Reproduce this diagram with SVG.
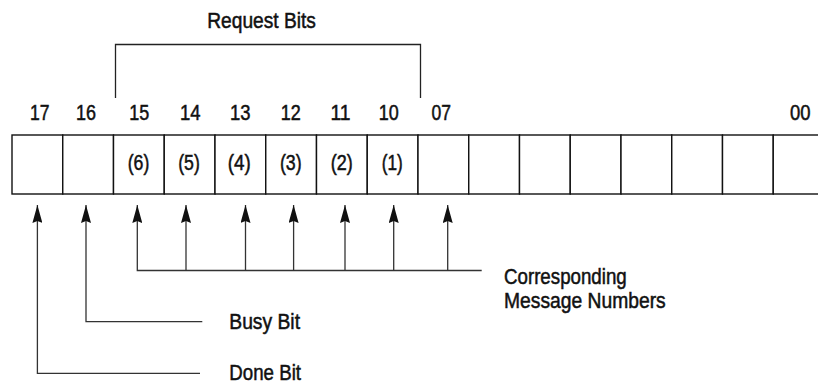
<svg xmlns="http://www.w3.org/2000/svg" width="818" height="386" viewBox="0 0 818 386">
  <style>
    .bg { fill: #ffffff; }
    .cell { fill: #ffffff; stroke: #111111; stroke-width: 1.4; }
    .txt { font-family: "Liberation Sans", Arial, sans-serif; font-size: 21.5px; fill: #111111; stroke: #111111; stroke-width: 0.5; }
    .mid { text-anchor: middle; }
    .wire { fill: none; stroke: #333333; stroke-width: 1.3; }
    .brace { fill: none; stroke: #222222; stroke-width: 1.3; }
  </style>
  <defs>
    <marker id="arrow" viewBox="0 0 18 10" refX="18" refY="5" markerWidth="18" markerHeight="10" markerUnits="userSpaceOnUse" orient="auto">
      <path d="M0,0 L18,5 L0,10 L2,5 Z" fill="#111111"/>
    </marker>
  </defs>

  <rect class="bg" x="0" y="0" width="818" height="386"/>

  <!-- bracket over the request bits -->
  <g id="request-bits">
    <path class="brace" d="M115.5,98 V44.5 H420.5 V98"/>
    <text class="txt mid" x="261.6" y="28.3" textLength="108.7" lengthAdjust="spacingAndGlyphs">Request Bits</text>
  </g>

  <!-- register word: bits 17..10 and 07..00 -->
  <g id="bit-17">
    <rect class="cell" x="12" y="135" width="50.75" height="59"/>
    <text class="txt mid" x="39.7" y="119.5" textLength="19.5" lengthAdjust="spacingAndGlyphs">17</text>
  </g>
  <g id="bit-16">
    <rect class="cell" x="62.75" y="135" width="50.75" height="59"/>
    <text class="txt mid" x="86" y="119.5" textLength="20" lengthAdjust="spacingAndGlyphs">16</text>
  </g>
  <g id="bit-15">
    <rect class="cell" x="113.5" y="135" width="50.75" height="59"/>
    <text class="txt mid" x="139.3" y="119.5" textLength="20" lengthAdjust="spacingAndGlyphs">15</text>
    <text class="txt mid" x="138.5" y="170" textLength="21.6" lengthAdjust="spacingAndGlyphs">(6)</text>
  </g>
  <g id="bit-14">
    <rect class="cell" x="164.25" y="135" width="50.75" height="59"/>
    <text class="txt mid" x="190.3" y="119.5" textLength="20.5" lengthAdjust="spacingAndGlyphs">14</text>
    <text class="txt mid" x="189" y="170" textLength="21.6" lengthAdjust="spacingAndGlyphs">(5)</text>
  </g>
  <g id="bit-13">
    <rect class="cell" x="215" y="135" width="50.75" height="59"/>
    <text class="txt mid" x="240.3" y="119.5" textLength="20.5" lengthAdjust="spacingAndGlyphs">13</text>
    <text class="txt mid" x="239.2" y="170" textLength="23" lengthAdjust="spacingAndGlyphs">(4)</text>
  </g>
  <g id="bit-12">
    <rect class="cell" x="265.75" y="135" width="50.75" height="59"/>
    <text class="txt mid" x="290.7" y="119.5" textLength="20" lengthAdjust="spacingAndGlyphs">12</text>
    <text class="txt mid" x="290.8" y="170" textLength="21.7" lengthAdjust="spacingAndGlyphs">(3)</text>
  </g>
  <g id="bit-11">
    <rect class="cell" x="316.5" y="135" width="50.75" height="59"/>
    <text class="txt mid" x="340.5" y="119.5" textLength="20" lengthAdjust="spacingAndGlyphs">11</text>
    <text class="txt mid" x="341.7" y="170" textLength="22" lengthAdjust="spacingAndGlyphs">(2)</text>
  </g>
  <g id="bit-10">
    <rect class="cell" x="367.25" y="135" width="50.75" height="59"/>
    <text class="txt mid" x="388.8" y="119.5" textLength="20" lengthAdjust="spacingAndGlyphs">10</text>
    <text class="txt mid" x="392.2" y="170" textLength="21" lengthAdjust="spacingAndGlyphs">(1)</text>
  </g>
  <g id="bit-07">
    <rect class="cell" x="418" y="135" width="50.75" height="59"/>
    <text class="txt mid" x="441.2" y="119.5" textLength="19.5" lengthAdjust="spacingAndGlyphs">07</text>
  </g>
  <g id="bit-06"><rect class="cell" x="468.75" y="135" width="50.75" height="59"/></g>
  <g id="bit-05"><rect class="cell" x="519.5" y="135" width="50.75" height="59"/></g>
  <g id="bit-04"><rect class="cell" x="570.25" y="135" width="50.75" height="59"/></g>
  <g id="bit-03"><rect class="cell" x="621" y="135" width="50.75" height="59"/></g>
  <g id="bit-02"><rect class="cell" x="671.75" y="135" width="50.75" height="59"/></g>
  <g id="bit-01"><rect class="cell" x="722.5" y="135" width="50.75" height="59"/></g>
  <g id="bit-00">
    <rect class="cell" x="773.25" y="135" width="50.75" height="59"/>
    <text class="txt mid" x="800.3" y="119.5" textLength="20.5" lengthAdjust="spacingAndGlyphs">00</text>
  </g>

  <!-- callout labels -->
  <g id="label-message-numbers">
    <text class="txt" x="504" y="283.6" textLength="122.7" lengthAdjust="spacingAndGlyphs">Corresponding</text>
    <text class="txt" x="504" y="308" textLength="161.7" lengthAdjust="spacingAndGlyphs">Message Numbers</text>
  </g>
  <g id="label-busy">
    <text class="txt" x="229.3" y="329.3" textLength="70.7" lengthAdjust="spacingAndGlyphs">Busy Bit</text>
  </g>
  <g id="label-done">
    <text class="txt" x="229.3" y="380" textLength="71.7" lengthAdjust="spacingAndGlyphs">Done Bit</text>
  </g>

  <!-- leader lines with arrows pointing up into the bits -->
  <g id="connectors">
    <path class="wire" d="M200,373.3 H37.4 V205" marker-end="url(#arrow)"/>
    <path class="wire" d="M202.3,321.7 H86 V205" marker-end="url(#arrow)"/>
    <path class="wire" d="M481.7,270.5 H137.3 V205" marker-end="url(#arrow)"/>
    <path class="wire" d="M186,270.5 V205" marker-end="url(#arrow)"/>
    <path class="wire" d="M245.5,270.5 V205" marker-end="url(#arrow)"/>
    <path class="wire" d="M293.6,270.5 V205" marker-end="url(#arrow)"/>
    <path class="wire" d="M345,270.5 V205" marker-end="url(#arrow)"/>
    <path class="wire" d="M393.7,270.5 V205" marker-end="url(#arrow)"/>
    <path class="wire" d="M447.7,270.5 V205" marker-end="url(#arrow)"/>
  </g>
</svg>
